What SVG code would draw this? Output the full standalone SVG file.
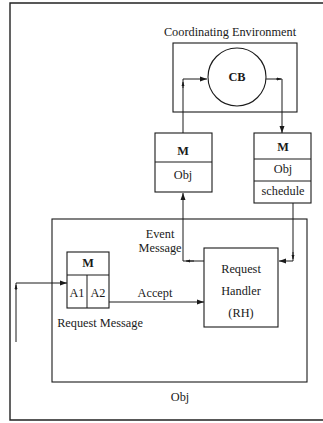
<svg xmlns="http://www.w3.org/2000/svg" width="323" height="423" viewBox="0 0 323 423">
<style>
text{font-family:"Liberation Serif","Times New Roman",serif;font-size:12.3px;fill:#1a1a1a;text-anchor:middle}
.b{font-weight:bold}
rect,circle{fill:none;stroke:#1a1a1a;stroke-width:1.1}
.c{fill:none;stroke:#1a1a1a;stroke-width:1}
.frame{fill:none;stroke:#222;stroke-width:1.4}
</style>
<defs>
<marker id="ah" markerWidth="8" markerHeight="6" refX="7" refY="3" orient="auto" markerUnits="userSpaceOnUse">
<path d="M0,0.5 L7,3 L0,5.5 z" fill="#1a1a1a"/>
</marker>
<marker id="tick" markerWidth="5" markerHeight="4" refX="4" refY="2" orient="auto" markerUnits="userSpaceOnUse">
<path d="M0,0.5 L4,2 L0,3.5 z" fill="#1a1a1a"/>
</marker>
</defs>
<path class="frame" d="M323,3 H10 V420 H323"/>
<g id="coord-env">
<rect x="173" y="43" width="124" height="69"/>
<text x="230" y="36">Coordinating Environment</text>
</g>
<g id="cb">
<circle cx="237" cy="77" r="29"/>
<text class="b" x="237" y="81">CB</text>
</g>
<g id="msg-left">
<rect x="155" y="133" width="57" height="59"/>
<path class="c" d="M155,162 H212"/>
<text class="b" x="183" y="155">M</text>
<text x="183" y="179">Obj</text>
</g>
<g id="msg-right">
<rect x="254" y="133" width="57" height="70"/>
<path class="c" d="M254,159 H311 M254,181 H311"/>
<text class="b" x="283" y="151">M</text>
<text x="283" y="173">Obj</text>
<text x="283" y="195">schedule</text>
</g>
<g id="obj">
<rect x="52" y="219" width="255" height="163"/>
<text x="180" y="401">Obj</text>
</g>
<g id="rh">
<rect x="204" y="248" width="74" height="79"/>
<text x="241" y="273">Request</text>
<text x="241" y="295">Handler</text>
<text x="241" y="317">(RH)</text>
</g>
<g id="request-message">
<rect x="67" y="252" width="42" height="56"/>
<path class="c" d="M67,275 H109 M87,275 V308"/>
<text class="b" x="88" y="267">M</text>
<text x="77" y="297">A1</text>
<text x="98" y="297">A2</text>
<text x="100" y="327">Request Message</text>
</g>
<g id="labels">
<text x="160" y="238">Event</text>
<text x="160" y="252">Message</text>
<text x="155" y="297">Accept</text>
</g>
<g id="connectors">
<path class="c" d="M183,133 V79 H207" marker-end="url(#ah)"/>
<path class="c" d="M183,88 V82" marker-end="url(#tick)"/>
<path class="c" d="M266,79 H282 V133" marker-end="url(#ah)"/>
<path class="c" d="M276,79 H281" marker-end="url(#tick)"/>
<path class="c" d="M204,261 H183 V193" marker-end="url(#ah)"/>
<path class="c" d="M194,261 H186" marker-end="url(#tick)"/>
<path class="c" d="M293,203 V261 H279" marker-end="url(#ah)"/>
<path class="c" d="M293,252 V259" marker-end="url(#tick)"/>
<path class="c" d="M109,302 H204" marker-end="url(#ah)"/>
<path class="c" d="M16,342 V283 H67" marker-end="url(#ah)"/>
<path class="c" d="M16,290 V285" marker-end="url(#tick)"/>
</g>
</svg>
